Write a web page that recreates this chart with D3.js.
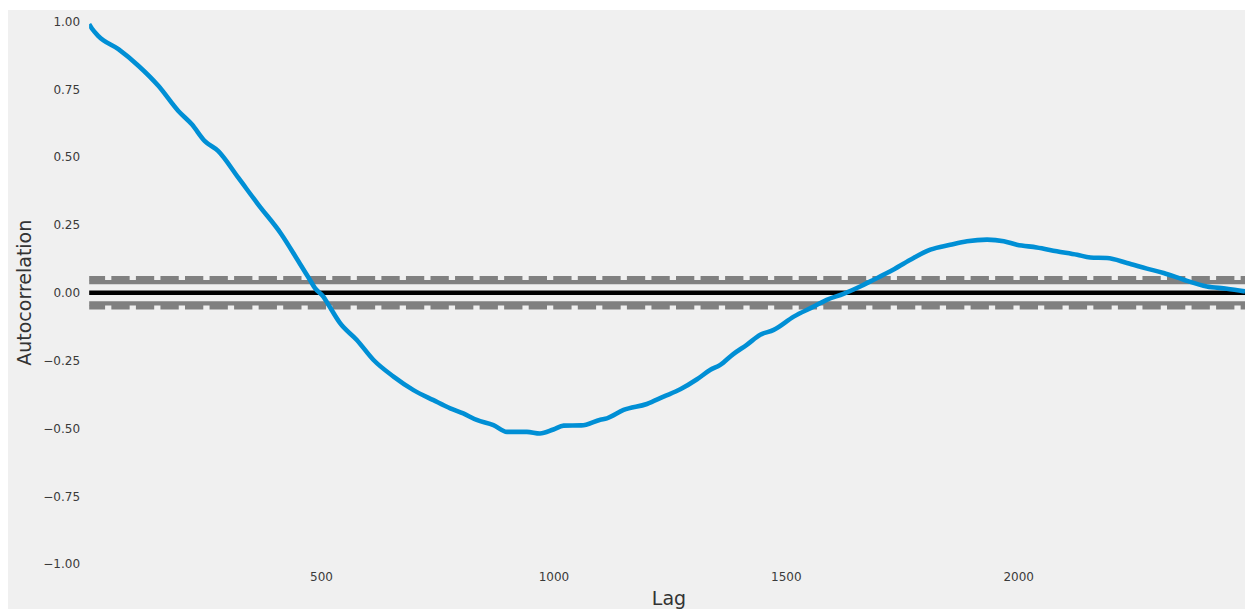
<!DOCTYPE html>
<html>
<head>
<meta charset="utf-8">
<script src="https://cdn.jsdelivr.net/npm/d3@7"></script>
<style>
  html, body { margin: 0; padding: 0; background: #ffffff; }
  svg { display: block; }
</style>
</head>
<body>
<svg id="chart" width="1245" height="609"></svg>
<script>
// ---- data ----
const lags = [1, 7, 21, 64, 107, 150, 193, 222, 250, 279, 322, 365, 415, 451, 476, 487, 505, 516, 541, 577, 613, 656, 699, 742, 778, 806, 835, 871, 900, 943, 971, 1000, 1022, 1060, 1101, 1115, 1151, 1201, 1237, 1273, 1309, 1337, 1359, 1387, 1416, 1445, 1474, 1517, 1560, 1588, 1624, 1660, 1682, 1725, 1768, 1811, 1854, 1890, 1933, 1969, 1997, 2040, 2083, 2127, 2155, 2191, 2234, 2277, 2313, 2356, 2406, 2449, 2488];
const acf  = [0.990, 0.974, 0.946, 0.898, 0.837, 0.763, 0.670, 0.621, 0.559, 0.522, 0.424, 0.325, 0.215, 0.117, 0.048, 0.017, -0.014, -0.044, -0.112, -0.174, -0.248, -0.309, -0.359, -0.396, -0.426, -0.445, -0.469, -0.488, -0.513, -0.513, -0.519, -0.504, -0.490, -0.489, -0.468, -0.463, -0.432, -0.410, -0.383, -0.356, -0.319, -0.285, -0.266, -0.226, -0.192, -0.155, -0.137, -0.088, -0.051, -0.026, -0.004, 0.023, 0.042, 0.079, 0.122, 0.159, 0.177, 0.190, 0.196, 0.190, 0.177, 0.167, 0.153, 0.140, 0.130, 0.128, 0.110, 0.089, 0.073, 0.048, 0.023, 0.015, 0.005];
const confSolid  = [0.039, -0.039];     // 95% band
const confDashed = [0.0535, -0.0535];   // 99% band
const xTicks = [500, 1000, 1500, 2000];
const yTicks = [-1.00, -0.75, -0.50, -0.25, 0.00, 0.25, 0.50, 0.75, 1.00];
const xDomain = [1, 2488];
const yDomain = [-1, 1];

(function () {
  const svg = d3.select("#chart");
  const mL = 89.1, mR = 1245, mT = 21.5, mB = 564;

  svg.append("rect")
    .attr("x", 8).attr("y", 10)
    .attr("width", 1245 - 8).attr("height", 609 - 10)
    .attr("fill", "#f0f0f0");

  const x = d3.scaleLinear().domain(xDomain).range([mL, mR]);
  const y = d3.scaleLinear().domain(yDomain).range([mB, mT]);

  svg.append("defs").append("clipPath").attr("id", "clip")
    .append("rect")
    .attr("x", mL).attr("y", mT)
    .attr("width", mR - mL).attr("height", mB - mT);

  const plot = svg.append("g").attr("clip-path", "url(#clip)");

  const hlines = [
    {v: confDashed[0], color: "#808080", dash: true},
    {v: confSolid[0],  color: "#808080", dash: false},
    {v: 0,             color: "#000000", dash: false},
    {v: confSolid[1],  color: "#808080", dash: false},
    {v: confDashed[1], color: "#808080", dash: true}
  ];
  hlines.forEach(h => {
    const ln = plot.append("line")
      .attr("x1", x(xDomain[0])).attr("x2", x(xDomain[1]))
      .attr("y1", y(h.v)).attr("y2", y(h.v))
      .attr("stroke", h.color)
      .attr("stroke-width", 4.4);
    if (h.dash) {
      ln.attr("stroke-dasharray", "18.3,6.25").attr("stroke-dashoffset", 2.3);
    }
  });

  const pts = lags.map((l, i) => [l, acf[i]]);
  plot.append("path")
    .datum(pts)
    .attr("fill", "none")
    .attr("stroke", "#008fd5")
    .attr("stroke-width", 4.6)
    .attr("stroke-linejoin", "round")
    .attr("d", d3.line().x(d => x(d[0])).y(d => y(d[1])).curve(d3.curveMonotoneX));

  const fmtY = v => (v < 0 ? "\u2212" : "") + Math.abs(v).toFixed(2);

  const xAxis = svg.append("g")
    .attr("transform", `translate(0,${mB})`)
    .call(d3.axisBottom(x).tickValues(xTicks).tickSize(0).tickPadding(8).tickFormat(d3.format("d")));
  xAxis.select(".domain").remove();
  xAxis.selectAll("text")
    .attr("font-family", "DejaVu Sans, sans-serif")
    .attr("font-size", 12)
    .attr("fill", "#3a3a3a");

  const yAxis = svg.append("g")
    .attr("transform", `translate(${mL},0)`)
    .call(d3.axisLeft(y).tickValues(yTicks).tickSize(0).tickPadding(9).tickFormat(fmtY));
  yAxis.select(".domain").remove();
  yAxis.selectAll("text")
    .attr("font-family", "DejaVu Sans, sans-serif")
    .attr("font-size", 12)
    .attr("fill", "#3a3a3a");

  svg.append("text")
    .attr("x", 669).attr("y", 605)
    .attr("text-anchor", "middle")
    .attr("font-family", "DejaVu Sans, sans-serif")
    .attr("font-size", 19)
    .attr("fill", "#333333")
    .text("Lag");

  svg.append("text")
    .attr("transform", `translate(31,${(mT + mB) / 2}) rotate(-90)`)
    .attr("text-anchor", "middle")
    .attr("font-family", "DejaVu Sans, sans-serif")
    .attr("font-size", 19)
    .attr("fill", "#333333")
    .text("Autocorrelation");
})();
</script>
</body>
</html>
